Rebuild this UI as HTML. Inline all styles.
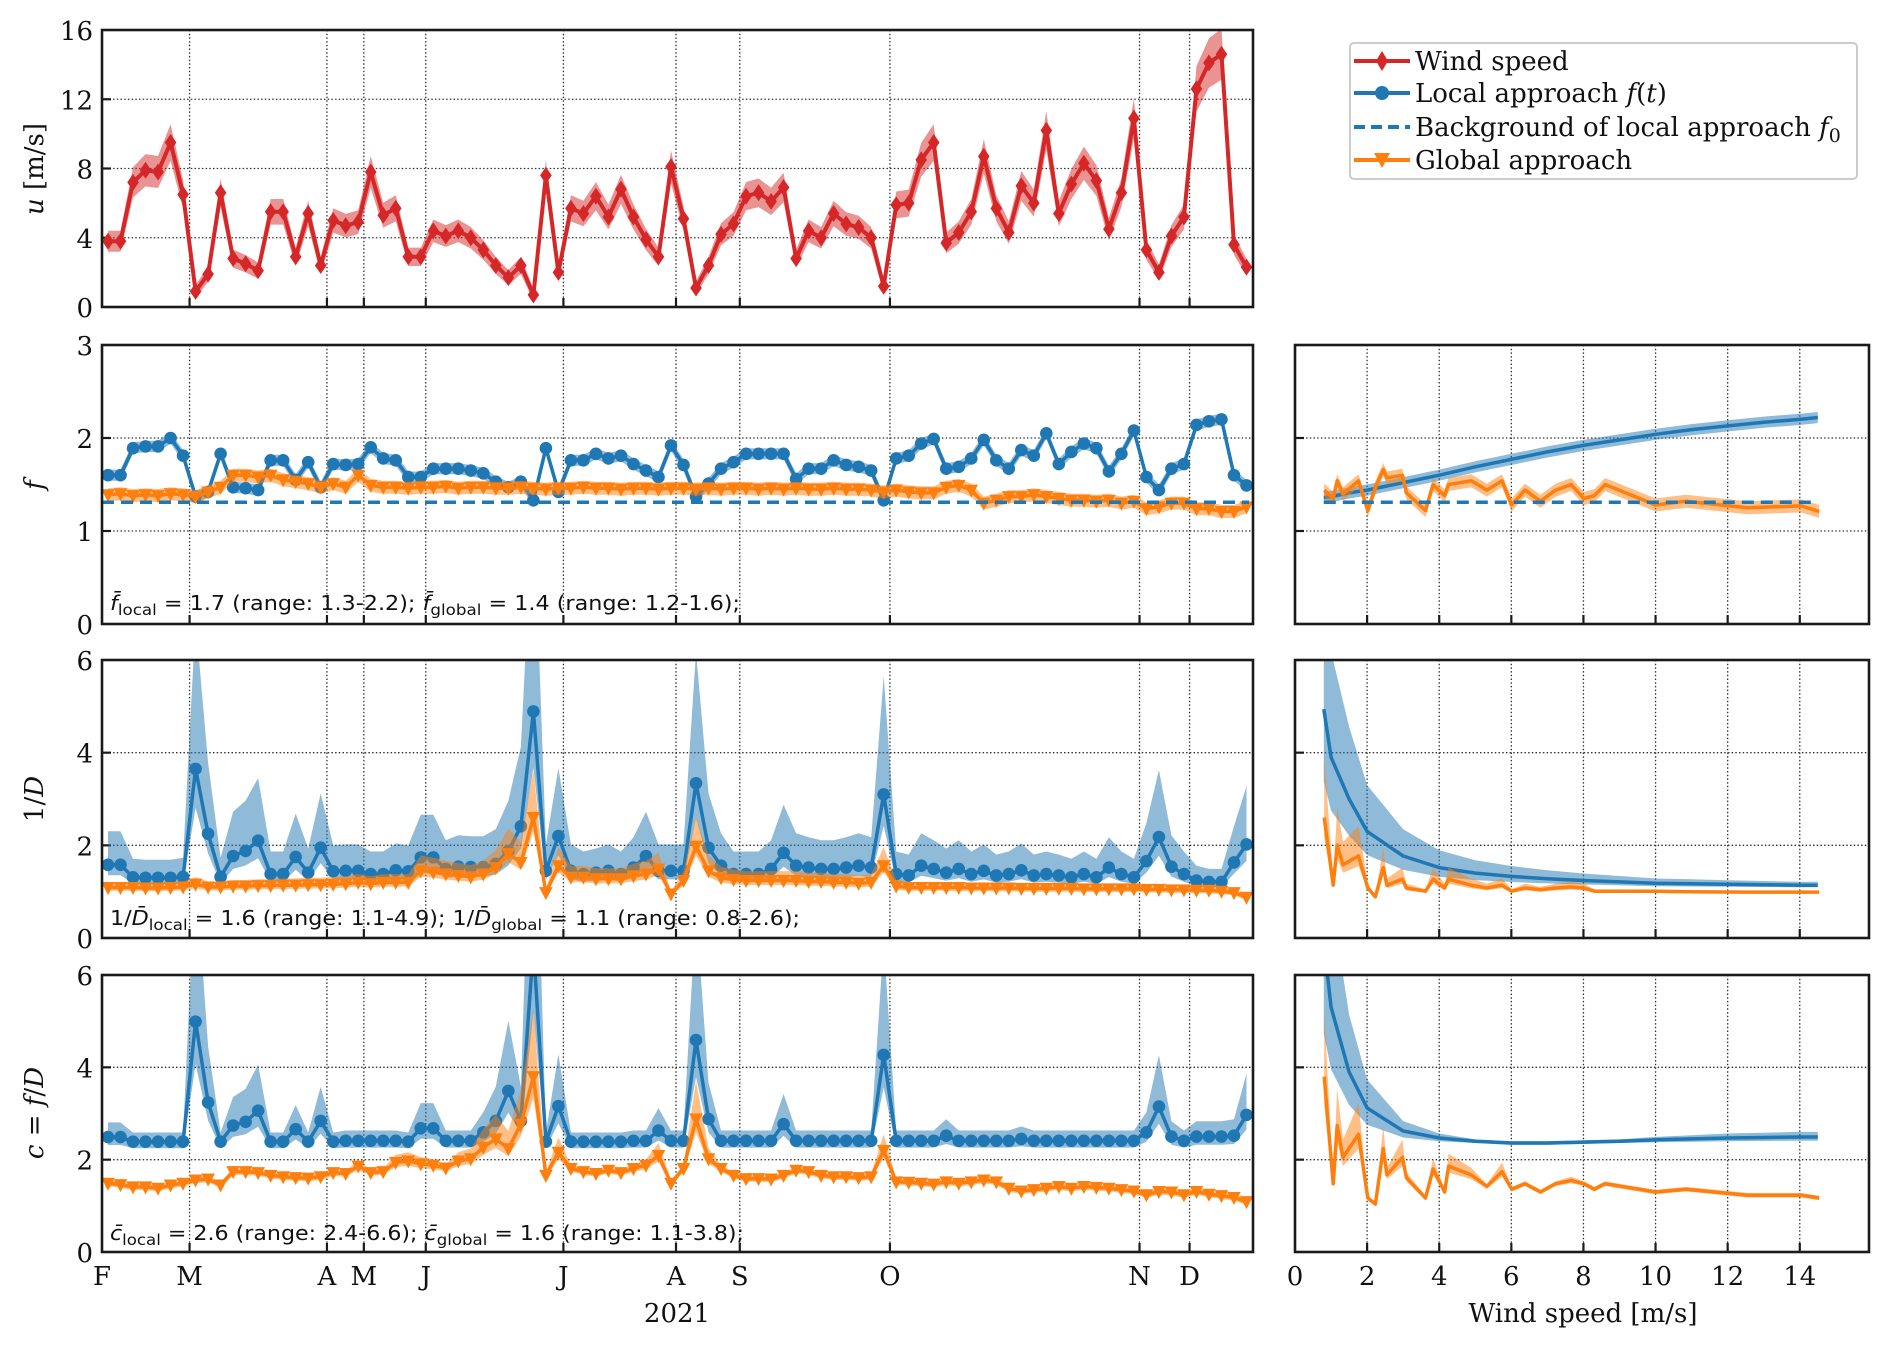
<!DOCTYPE html>
<html><head><meta charset="utf-8"><title>Wind speed and diffusion parameters</title>
<style>
html,body{margin:0;padding:0;background:#fff;}
svg{display:block;font-family:"DejaVu Serif","Liberation Serif",serif;}
</style></head>
<body>
<svg id="fig" xmlns="http://www.w3.org/2000/svg" width="1892" height="1347" viewBox="0 0 1892 1347">
<rect x="0" y="0" width="1892" height="1347" fill="#fff"/>
</svg>
<script>
// ---------- data (time series, one value per sample index) ----------
const windSpeed = [3.8,3.8,7.2,7.9,7.8,9.5,6.5,0.9,1.9,6.6,
2.8,2.5,2.1,5.5,5.5,2.9,5.4,2.4,5.0,4.7,
4.9,7.8,5.3,5.7,2.9,2.9,4.4,4.1,4.4,4.0,
3.3,2.4,1.7,2.4,0.7,7.6,2.0,5.7,5.4,6.4,
5.2,6.8,5.2,3.9,2.9,8.1,5.1,1.1,2.4,4.2,
4.8,6.4,6.6,6.1,6.9,2.8,4.4,4.0,5.4,4.8,
4.6,4.0,1.2,5.9,6.0,8.5,9.5,3.7,4.3,5.5,
8.7,5.7,4.3,7.0,6.0,10.2,5.4,7.1,8.3,7.3,
4.5,6.6,10.9,3.3,2.0,4.1,5.2,12.6,14.1,14.6,
3.6,2.3];
const localF = [1.6,1.6,1.89,1.91,1.91,2.0,1.81,1.37,1.42,1.83,
1.47,1.46,1.44,1.76,1.76,1.55,1.74,1.47,1.72,1.71,
1.72,1.9,1.78,1.76,1.58,1.58,1.67,1.67,1.67,1.65,
1.62,1.53,1.47,1.53,1.33,1.89,1.42,1.76,1.76,1.83,
1.78,1.81,1.72,1.65,1.58,1.92,1.71,1.37,1.51,1.67,
1.74,1.83,1.83,1.83,1.83,1.56,1.67,1.67,1.76,1.71,
1.69,1.65,1.33,1.78,1.81,1.94,1.99,1.67,1.69,1.78,
1.98,1.76,1.67,1.87,1.81,2.05,1.72,1.85,1.94,1.89,
1.64,1.83,2.08,1.58,1.44,1.67,1.72,2.14,2.18,2.2,
1.6,1.49];
const globalF = [1.39,1.4,1.38,1.39,1.38,1.4,1.39,1.37,1.42,1.47,
1.6,1.6,1.58,1.6,1.55,1.53,1.51,1.47,1.51,1.47,
1.6,1.49,1.47,1.47,1.46,1.47,1.47,1.48,1.46,1.47,
1.47,1.46,1.46,1.47,1.46,1.45,1.46,1.46,1.47,1.46,
1.46,1.45,1.46,1.46,1.45,1.46,1.46,1.45,1.46,1.45,
1.46,1.46,1.45,1.46,1.45,1.46,1.45,1.45,1.46,1.45,
1.45,1.44,1.42,1.44,1.42,1.41,1.41,1.47,1.49,1.44,
1.3,1.33,1.37,1.37,1.39,1.37,1.35,1.33,1.33,1.32,
1.33,1.3,1.32,1.24,1.26,1.3,1.3,1.24,1.24,1.21,
1.21,1.26];
const backgroundF0 = [1.31];
const localInvD = [1.58,1.58,1.31,1.3,1.3,1.3,1.32,3.65,2.25,1.32,
1.77,1.88,2.1,1.38,1.38,1.75,1.41,1.95,1.44,1.45,
1.45,1.38,1.38,1.46,1.44,1.74,1.74,1.49,1.54,1.53,
1.53,1.6,1.88,2.41,4.89,1.45,2.2,1.45,1.38,1.41,
1.45,1.38,1.52,1.77,1.45,1.45,1.45,3.34,1.95,1.56,
1.38,1.38,1.38,1.49,1.84,1.56,1.52,1.49,1.49,1.52,
1.56,1.52,3.1,1.38,1.35,1.56,1.49,1.41,1.49,1.38,
1.45,1.35,1.38,1.46,1.35,1.38,1.35,1.31,1.38,1.31,
1.52,1.38,1.31,1.66,2.18,1.54,1.38,1.24,1.21,1.21,
1.63,2.02];
const globalInvD = [1.09,1.09,1.09,1.08,1.08,1.09,1.1,1.16,1.1,1.1,
1.12,1.12,1.13,1.13,1.14,1.14,1.15,1.15,1.16,1.17,
1.2,1.17,1.2,1.2,1.2,1.45,1.42,1.38,1.35,1.32,
1.38,1.52,1.82,1.63,2.6,0.98,1.56,1.31,1.31,1.28,
1.28,1.28,1.34,1.38,1.49,0.95,1.24,1.98,1.45,1.3,
1.26,1.24,1.24,1.24,1.24,1.24,1.22,1.22,1.2,1.2,
1.18,1.2,1.56,1.12,1.09,1.09,1.09,1.09,1.09,1.08,
1.08,1.08,1.08,1.07,1.07,1.07,1.07,1.07,1.06,1.06,
1.06,1.06,1.06,1.05,1.05,1.04,1.04,1.03,1.03,1.01,
0.98,0.88];
const localC = [2.49,2.49,2.39,2.39,2.39,2.39,2.39,4.99,3.24,2.39,
2.74,2.82,3.06,2.39,2.39,2.66,2.39,2.84,2.39,2.41,
2.41,2.41,2.41,2.41,2.39,2.68,2.68,2.41,2.41,2.41,
2.59,2.84,3.49,2.84,6.6,2.39,3.16,2.39,2.39,2.39,
2.39,2.39,2.41,2.41,2.63,2.41,2.41,4.59,2.88,2.41,
2.41,2.41,2.41,2.41,2.77,2.41,2.41,2.41,2.41,2.41,
2.41,2.41,4.27,2.41,2.41,2.41,2.41,2.52,2.41,2.41,
2.41,2.41,2.41,2.45,2.41,2.41,2.41,2.41,2.41,2.41,
2.41,2.41,2.41,2.59,3.15,2.5,2.41,2.5,2.5,2.5,
2.52,2.97];
const globalC = [1.49,1.46,1.41,1.41,1.38,1.45,1.49,1.56,1.58,1.45,
1.74,1.74,1.72,1.66,1.63,1.61,1.6,1.63,1.72,1.7,
1.86,1.72,1.74,1.94,1.97,1.91,1.88,1.82,1.97,2.02,
2.27,2.45,2.24,2.77,3.8,1.66,2.16,1.81,1.74,1.7,
1.77,1.72,1.81,1.88,2.09,1.49,1.81,2.88,2.02,1.81,
1.66,1.59,1.59,1.58,1.66,1.77,1.74,1.66,1.63,1.63,
1.61,1.63,2.2,1.52,1.51,1.49,1.47,1.52,1.49,1.52,
1.56,1.52,1.38,1.32,1.35,1.38,1.42,1.38,1.42,1.4,
1.38,1.35,1.32,1.24,1.31,1.3,1.24,1.31,1.25,1.22,
1.18,1.09];
const monthLabels = ["F","M","A","M","J","J","A","S","O","N","D"];
const monthIndex = [-0.48,6.52,17.5,20.45,25.4,36.4,45.4,50.5,62.5,82.45,86.45];
const uTicks = [0,4,8,12,16];
const fTicks = [0,1,2,3];
const dTicks = [0,2,4,6];
const cTicks = [0,2,4,6];
// ---------- data (versus wind speed) ----------
const windBinsGlobal = [0.81,1.06,1.17,1.33,1.76,2.02,2.23,2.45,2.55,2.98,3.09,3.62,3.83,4.15,4.26,4.89,5.32,5.74,6.01,6.38,6.81,7.23,7.66,8.01,8.3,8.6,10.0,10.85,12.55,14.04,14.54];
const globalFvsU = [1.44,1.35,1.54,1.4,1.54,1.22,1.47,1.66,1.57,1.6,1.41,1.22,1.5,1.38,1.5,1.54,1.44,1.54,1.28,1.44,1.32,1.44,1.5,1.35,1.38,1.5,1.28,1.32,1.25,1.27,1.21];
const globalInvDvsU = [2.6,1.14,2.0,1.58,1.77,1.08,0.89,1.52,1.14,1.27,1.08,1.01,1.27,1.08,1.27,1.14,1.08,1.14,1.01,1.08,1.04,1.08,1.1,1.08,1.01,1.01,1.01,1.0,0.99,0.99,0.99];
const globalCvsU = [3.8,1.48,2.74,2.05,2.55,1.17,1.04,2.24,1.67,2.05,1.61,1.17,1.8,1.3,1.86,1.67,1.42,1.74,1.36,1.48,1.3,1.48,1.55,1.48,1.36,1.48,1.3,1.36,1.23,1.23,1.17];
const windBinsLocal = [0.8,1,1.5,2,3,4,5,6,7,8,9,10,11,12,13,14,14.5];
const localFvsU = [1.36,1.37,1.41,1.44,1.52,1.6,1.69,1.77,1.85,1.92,1.98,2.04,2.09,2.13,2.17,2.2,2.22];
const localInvDvsU = [4.94,3.9,3.0,2.3,1.77,1.52,1.4,1.33,1.28,1.24,1.21,1.18,1.17,1.16,1.15,1.14,1.14];
const localCvsU = [6.7,5.3,3.9,3.12,2.62,2.47,2.4,2.36,2.36,2.38,2.4,2.43,2.45,2.47,2.48,2.49,2.49];
const windTicks = [0,2,4,6,8,10,12,14];

// ---------- drawing ----------
const NS = "http://www.w3.org/2000/svg";
const svg = document.getElementById("fig");
const RED="#d62728", BLUE="#1f77b4", ORANGE="#ff7f0e";
function mk(tag, attrs, parent){
  const e=document.createElementNS(NS,tag);
  for(const k in attrs) e.setAttribute(k,attrs[k]);
  (parent||svg).appendChild(e);
  return e;
}
const LX0=102, LX1=1253, RX0=1295, RX1=1869;
const panels = {
  u:{y0:30,y1:307,min:0,max:16},
  f:{y0:345,y1:624,min:0,max:3},
  d:{y0:660,y1:938,min:0,max:6},
  c:{y0:975,y1:1252,min:0,max:6}
};
function xIdx(i){ return LX0 + (i+0.48)*(LX1-LX0)/92; }
function xWind(w){ return RX0 + w*(RX1-RX0)/15.92; }
function yOf(p,v){ return p.y1 - (v-p.min)/(p.max-p.min)*(p.y1-p.y0); }

const defs=mk("defs",{});
let clipN=0;
function clipFor(x0,x1,p){
  const id="clip"+(clipN++);
  const cp=mk("clipPath",{id:id},defs);
  mk("rect",{x:x0,y:p.y0,width:x1-x0,height:p.y1-p.y0},cp);
  return "url(#"+id+")";
}

function frame(x0,x1,p,name){
  const r=mk("rect",{x:x0,y:p.y0,width:x1-x0,height:p.y1-p.y0,fill:"none",stroke:"#1a1a1a","stroke-width":2.6});
  
  
}
function hgrid(x0,x1,p,ticks,labels,name){
  const g=mk("g",{});
  
  
  ticks.forEach(t=>{
    const y=yOf(p,t);
    if(t>p.min && t<p.max){
      mk("line",{x1:x0,x2:x1,y1:y,y2:y,stroke:"#333","stroke-width":1.3,"stroke-dasharray":"1.5 2.2"},g);
      mk("line",{x1:x0,x2:x0+9,y1:y,y2:y,stroke:"#1a1a1a","stroke-width":2.2},g);
    }
    if(labels){
      const tx=mk("text",{x:x0-9,y:y+10,"text-anchor":"end","font-size":26,fill:"#111"},g);
      tx.textContent=t;
      
      
    }
  });
}
function vgridMonths(p,name){
  const g=mk("g",{});
  
  
  monthIndex.forEach(m=>{
    const x=xIdx(m);
    if(x>LX0+2){
      mk("line",{x1:x,x2:x,y1:p.y0,y2:p.y1,stroke:"#333","stroke-width":1.3,"stroke-dasharray":"1.5 2.2"},g);
      mk("line",{x1:x,x2:x,y1:p.y1,y2:p.y1-9,stroke:"#1a1a1a","stroke-width":2.2},g);
    }
  });
}
function vgridWind(p,name){
  const g=mk("g",{});
  
  
  windTicks.forEach(w=>{
    const x=xWind(w);
    if(w>0){
      mk("line",{x1:x,x2:x,y1:p.y0,y2:p.y1,stroke:"#333","stroke-width":1.3,"stroke-dasharray":"1.5 2.2"},g);
      mk("line",{x1:x,x2:x,y1:p.y1,y2:p.y1-9,stroke:"#1a1a1a","stroke-width":2.2},g);
    }
  });
}
function band(xs,lo,hi,p,color,op,clip,name){
  let d="";
  for(let i=0;i<xs.length;i++) d+=(i?"L":"M")+xs[i].toFixed(1)+","+yOf(p,hi[i]).toFixed(1);
  for(let i=xs.length-1;i>=0;i--) d+="L"+xs[i].toFixed(1)+","+yOf(p,lo[i]).toFixed(1);
  d+="Z";
  const e=mk("path",{d:d,fill:color,"fill-opacity":op,stroke:"none","clip-path":clip});
  
  
}
function line(xs,vals,p,color,w,clip,name,dash){
  const pts=xs.map((x,i)=>x.toFixed(1)+","+yOf(p,vals[i]).toFixed(1)).join(" ");
  const e=mk("polyline",{points:pts,fill:"none",stroke:color,"stroke-width":w,"stroke-linejoin":"round","clip-path":clip});
  if(dash) e.setAttribute("stroke-dasharray",dash);
  
  
}
function markers(xs,vals,p,kind,color,clip,name){
  const g=mk("g",{"clip-path":clip,fill:color});
  
  
  xs.forEach((x,i)=>{
    const y=yOf(p,vals[i]);
    let e;
    if(kind==="diamond") e=mk("path",{d:`M${x},${y-8.5}L${x+5.8},${y}L${x},${y+8.5}L${x-5.8},${y}Z`},g);
    else if(kind==="circle") e=mk("circle",{cx:x,cy:y,r:6.3},g);
    else e=mk("path",{d:`M${x-6.8},${y-5.5}L${x+6.8},${y-5.5}L${x},${y+7.5}Z`},g);
    
    
  });
}
const idxX = windSpeed.map((_,i)=>xIdx(i));

{
  const p=panels.u, clip=clipFor(LX0,LX1,p);
  hgrid(LX0,LX1,p,uTicks,true,"u-y-grid");
  vgridMonths(p,"u-month-grid");
  band(idxX,windSpeed.map(v=>Math.max(0,v-(0.3+0.08*v))),windSpeed.map(v=>v+0.3+0.08*v),p,RED,0.5,clip,"wind-speed-band");
  line(idxX,windSpeed,p,RED,4,clip,"wind-speed-line");
  markers(idxX,windSpeed,p,"diamond",RED,clip,"wind-speed");
  frame(LX0,LX1,p,"u-panel-frame");
}
{
  const p=panels.f, clip=clipFor(LX0,LX1,p);
  hgrid(LX0,LX1,p,fTicks,true,"f-y-grid");
  vgridMonths(p,"f-month-grid");
  band(idxX,localF.map(v=>v-0.06),localF.map(v=>v+0.06),p,BLUE,0.5,clip,"local-f-band");
  line(idxX,localF,p,BLUE,3.5,clip,"local-f-line");
  markers(idxX,localF,p,"circle",BLUE,clip,"local-f");
  band(idxX,globalF.map(v=>v-0.07),globalF.map(v=>v+0.07),p,ORANGE,0.5,clip,"global-f-band");
  line(idxX,globalF,p,ORANGE,3.5,clip,"global-f-line");
  markers(idxX,globalF,p,"tri",ORANGE,clip,"global-f");
  line([xIdx(-0.48),xIdx(91.2)],[backgroundF0[0],backgroundF0[0]],p,BLUE,3.5,clip,"background-f0-line","12 7");
  frame(LX0,LX1,p,"f-panel-frame");
  const pr=p, clipR=clipFor(RX0,RX1,pr);
  hgrid(RX0,RX1,pr,fTicks,false,"f-right-y-grid");
  vgridWind(pr,"f-right-x-grid");
  const xl=windBinsLocal.map(xWind), xg=windBinsGlobal.map(xWind);
  band(xl,localFvsU.map(v=>v-0.06),localFvsU.map(v=>v+0.06),pr,BLUE,0.5,clipR,"local-f-vs-wind-band");
  line(xl,localFvsU,pr,BLUE,3.5,clipR,"local-f-vs-wind-line");
  band(xg,globalFvsU.map(v=>v-0.07),globalFvsU.map(v=>v+0.07),pr,ORANGE,0.5,clipR,"global-f-vs-wind-band");
  line(xg,globalFvsU,pr,ORANGE,3.5,clipR,"global-f-vs-wind-line");
  line([xWind(0.8),xWind(14.5)],[backgroundF0[0],backgroundF0[0]],pr,BLUE,3.5,clipR,"background-f0-vs-wind-line","12 7");
  frame(RX0,RX1,pr,"f-right-panel-frame");
}
{
  const p=panels.d, clip=clipFor(LX0,LX1,p);
  hgrid(LX0,LX1,p,dTicks,true,"invd-y-grid");
  vgridMonths(p,"invd-month-grid");
  band(idxX,localInvD.map(v=>v-0.3*(v-1.1)-0.08),localInvD.map(v=>v+1.2*(v-1.1)+0.15),p,BLUE,0.5,clip,"local-invd-band");
  line(idxX,localInvD,p,BLUE,3.5,clip,"local-invd-line");
  markers(idxX,localInvD,p,"circle",BLUE,clip,"local-invd");
  band(idxX,globalInvD.map(v=>v-0.15*Math.max(0,v-1)-0.06),globalInvD.map(v=>v+0.6*Math.max(0,v-1)+0.06),p,ORANGE,0.5,clip,"global-invd-band");
  line(idxX,globalInvD,p,ORANGE,3.5,clip,"global-invd-line");
  markers(idxX,globalInvD,p,"tri",ORANGE,clip,"global-invd");
  frame(LX0,LX1,p,"invd-panel-frame");
  const clipR=clipFor(RX0,RX1,p);
  hgrid(RX0,RX1,p,dTicks,false,"invd-right-y-grid");
  vgridWind(p,"invd-right-x-grid");
  const xl=windBinsLocal.map(xWind), xg=windBinsGlobal.map(xWind);
  band(xl,localInvDvsU.map(v=>v-0.4*(v-1.1)-0.03),localInvDvsU.map(v=>v+0.8*(v-1.1)+0.04),p,BLUE,0.5,clipR,"local-invd-vs-wind-band");
  line(xl,localInvDvsU,p,BLUE,3.5,clipR,"local-invd-vs-wind-line");
  band(xg,globalInvDvsU.map(v=>v-0.25*Math.max(0,v-1)-0.03),globalInvDvsU.map(v=>v+0.8*Math.max(0,v-1)+0.03),p,ORANGE,0.5,clipR,"global-invd-vs-wind-band");
  line(xg,globalInvDvsU,p,ORANGE,3.5,clipR,"global-invd-vs-wind-line");
  frame(RX0,RX1,p,"invd-right-panel-frame");
}
{
  const p=panels.c, clip=clipFor(LX0,LX1,p);
  hgrid(LX0,LX1,p,cTicks,true,"c-y-grid");
  vgridMonths(p,"c-month-grid");
  band(idxX,localC.map(v=>v-0.3*(v-2.35)-0.13),localC.map(v=>v+1.2*(v-2.35)+0.15),p,BLUE,0.5,clip,"local-c-band");
  line(idxX,localC,p,BLUE,3.5,clip,"local-c-line");
  markers(idxX,localC,p,"circle",BLUE,clip,"local-c");
  band(idxX,globalC.map(v=>v-0.2*Math.max(0,v-1.8)-0.07),globalC.map(v=>v+0.7*Math.max(0,v-1.8)+0.07),p,ORANGE,0.5,clip,"global-c-band");
  line(idxX,globalC,p,ORANGE,3.5,clip,"global-c-line");
  markers(idxX,globalC,p,"tri",ORANGE,clip,"global-c");
  frame(LX0,LX1,p,"c-panel-frame");
  const clipR=clipFor(RX0,RX1,p);
  hgrid(RX0,RX1,p,cTicks,false,"c-right-y-grid");
  vgridWind(p,"c-right-x-grid");
  const xl=windBinsLocal.map(xWind), xg=windBinsGlobal.map(xWind);
  band(xl,localCvsU.map(v=>v-0.45*Math.max(0,v-2.4)-0.04),localCvsU.map(v=>v+0.8*Math.max(0,v-2.4)+0.04),p,BLUE,0.5,clipR,"local-c-vs-wind-band");
  line(xl,localCvsU,p,BLUE,3.5,clipR,"local-c-vs-wind-line");
  band(xg,globalCvsU.map(v=>v-0.25*Math.max(0,v-1.5)-0.05),globalCvsU.map(v=>v+0.6*Math.max(0,v-1.5)+0.05),p,ORANGE,0.5,clipR,"global-c-vs-wind-band");
  line(xg,globalCvsU,p,ORANGE,3.5,clipR,"global-c-vs-wind-line");
  frame(RX0,RX1,p,"c-right-panel-frame");
}
monthLabels.forEach((m,i)=>{
  const t=mk("text",{x:xIdx(monthIndex[i]),y:1285,"text-anchor":"middle","font-size":26,fill:"#111"});
  t.textContent=m;
  
  
});
windTicks.forEach(w=>{
  const t=mk("text",{x:xWind(w),y:1285,"text-anchor":"middle","font-size":26,fill:"#111"});
  t.textContent=w;
  
  
});
</script>
<script>
(function(){
  const svg=document.getElementById("fig");
  svg.insertAdjacentHTML("beforeend", `
  <text x="677" y="1322" text-anchor="middle" font-size="26" fill="#111">2021</text>
  <text x="1583" y="1322" text-anchor="middle" font-size="26" fill="#111">Wind speed [m/s]</text>
  <text transform="translate(43,169) rotate(-90)" text-anchor="middle" font-size="26" fill="#111"><tspan font-style="italic">u</tspan> [m/s]</text>
  <text transform="translate(43,485) rotate(-90)" text-anchor="middle" font-size="26" font-style="italic" fill="#111">f</text>
  <text transform="translate(43,799) rotate(-90)" text-anchor="middle" font-size="26" fill="#111">1/<tspan font-style="italic">D</tspan></text>
  <text transform="translate(43,1113) rotate(-90)" text-anchor="middle" font-size="26" fill="#111"><tspan font-style="italic">c</tspan> = <tspan font-style="italic">f</tspan>/<tspan font-style="italic">D</tspan></text>
  <text x="110" y="610" font-family="DejaVu Sans, Liberation Sans, sans-serif" font-size="20" fill="#111" textLength="630" lengthAdjust="spacingAndGlyphs"><tspan font-style="italic">f̄</tspan><tspan font-size="15" dy="5">local</tspan><tspan dy="-5"> = 1.7 (range: 1.3-2.2); </tspan><tspan font-style="italic">f̄</tspan><tspan font-size="15" dy="5">global</tspan><tspan dy="-5"> = 1.4 (range: 1.2-1.6);</tspan></text>
  <text x="110" y="925" font-family="DejaVu Sans, Liberation Sans, sans-serif" font-size="20" fill="#111" textLength="690" lengthAdjust="spacingAndGlyphs">1/<tspan font-style="italic">D̄</tspan><tspan font-size="15" dy="5">local</tspan><tspan dy="-5"> = 1.6 (range: 1.1-4.9); 1/</tspan><tspan font-style="italic">D̄</tspan><tspan font-size="15" dy="5">global</tspan><tspan dy="-5"> = 1.1 (range: 0.8-2.6);</tspan></text>
  <text x="110" y="1240" font-family="DejaVu Sans, Liberation Sans, sans-serif" font-size="20" fill="#111" textLength="634" lengthAdjust="spacingAndGlyphs"><tspan font-style="italic">c̄</tspan><tspan font-size="15" dy="5">local</tspan><tspan dy="-5"> = 2.6 (range: 2.4-6.6); </tspan><tspan font-style="italic">c̄</tspan><tspan font-size="15" dy="5">global</tspan><tspan dy="-5"> = 1.6 (range: 1.1-3.8);</tspan></text>
  <g>
    <rect x="1350" y="43" width="507" height="136" rx="4" fill="#fff" stroke="#ccc" stroke-width="2"/>
    <g>
      <line x1="1354" x2="1410" y1="61" y2="61" stroke="#d62728" stroke-width="4"/>
      <path d="M1382,51L1388,61L1382,71L1376,61Z" fill="#d62728"/>
      <text x="1415" y="70" font-size="26" fill="#111">Wind speed</text>
    </g>
    <g>
      <line x1="1354" x2="1410" y1="93" y2="93" stroke="#1f77b4" stroke-width="4"/>
      <circle cx="1382" cy="93" r="7" fill="#1f77b4"/>
      <text x="1415" y="102" font-size="26" fill="#111">Local approach <tspan font-style="italic">f</tspan>(<tspan font-style="italic">t</tspan>)</text>
    </g>
    <g>
      <line x1="1354" x2="1410" y1="127" y2="127" stroke="#1f77b4" stroke-width="4" stroke-dasharray="11 6"/>
      <text x="1415" y="136" font-size="26" fill="#111">Background of local approach <tspan font-style="italic">f</tspan><tspan font-size="19" dy="6">0</tspan></text>
    </g>
    <g>
      <line x1="1354" x2="1410" y1="160" y2="160" stroke="#ff7f0e" stroke-width="4"/>
      <path d="M1374,153L1390,153L1382,168Z" fill="#ff7f0e"/>
      <text x="1415" y="169" font-size="26" fill="#111">Global approach</text>
    </g>
  </g>`);
})();
</script>
</body></html>
